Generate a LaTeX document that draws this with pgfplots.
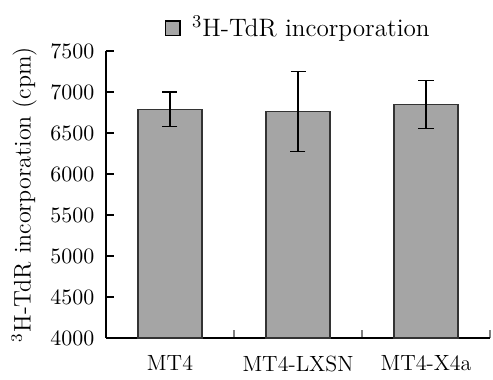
\documentclass[border=0pt]{standalone}
\usepackage{pgfplots}
\pgfplotsset{compat=1.18}
\definecolor{bargray}{RGB}{165,165,165}
\begin{document}
\fontsize{11}{13}\selectfont
\begin{tikzpicture}
\begin{axis}[
  scale only axis,
  width=192pt, height=143.5pt,
  at={(0,0)}, anchor=south west,
  xmin=-0.5, xmax=2.5,
  ymin=4000, ymax=7500,
  axis x line=bottom, axis y line=left,
  axis line style={-, line width=0.6pt},
  xtick={0,1,2},
  xticklabels={MT4,MT4-LXSN,MT4-X4a},
  major x tick style={draw=none},
  minor xtick={0.5,1.5,2.5},
  minor tick length=4pt,
  minor x tick style={line width=0.6pt},
  ytick={4000,4500,...,7500},
  major tick length=4pt,
  y tick style={line width=0.6pt, black},
  tick align=inside,
  xticklabel style={yshift=-5pt},
  yticklabel style={xshift=-2pt},
  /pgf/number format/1000 sep={},
  ylabel={$^{3}$H-TdR incorporation (cpm)},
  ylabel style={at={(axis description cs:-0.213,0.5)}, anchor=center, font=\fontsize{12}{14}\selectfont},
  legend style={draw=none, fill=none, at={(axis description cs:0.503,1.08)}, anchor=center, inner sep=0pt, font=\fontsize{12.6}{15}\selectfont},
  legend cell align=left,
  legend image code/.code={\draw[fill=bargray, draw=black, line width=0.9pt] (0pt,-3.7pt) rectangle (7.4pt,3.7pt);},
  clip=false,
]
\addplot[ybar, bar width=32pt, fill=bargray, draw=black!80, line width=0.6pt,
  error bars/.cd, y dir=both, y explicit,
  error mark options={line width=0.7pt, mark size=3.75pt, rotate=90},
  error bar style={line width=0.7pt, black}]
  coordinates {
  (0,6790) +- (0,210)
  (1,6760) +- (0,488)
  (2,6850) +- (0,293)
  };
\addlegendentry{\hspace{3.5pt}$^{3}$H-TdR incorporation}
\end{axis}
\path[use as bounding box] (-53pt,-20.5pt) rectangle (193.5pt,169pt);
\end{tikzpicture}
\end{document}
